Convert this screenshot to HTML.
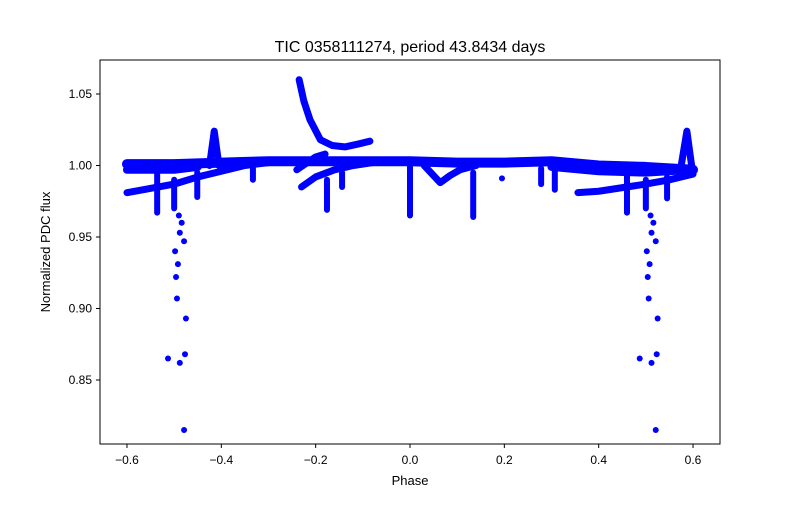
<!DOCTYPE html>
<html><head><meta charset="utf-8"><style>
body{margin:0;background:#fff;font-family:"Liberation Sans",sans-serif}
</style></head><body>
<svg id="chart" width="800" height="500" xmlns="http://www.w3.org/2000/svg" style="font-family:'Liberation Sans',sans-serif">
<rect width="800" height="500" fill="#fff"/>
<text x="410" y="52" text-anchor="middle" font-size="16">TIC 0358111274, period 43.8434 days</text>
<g id="marks"></g>
<rect x="100" y="60" width="620" height="384" fill="none" stroke="#000" stroke-width="1"/>
<g id="axes"></g>
<text x="410" y="485" text-anchor="middle" font-size="13">Phase</text>
<text transform="translate(50,252) rotate(-90)" text-anchor="middle" font-size="13">Normalized PDC flux</text>
</svg>
<script>
const xTicks=[-0.6,-0.4,-0.2,0.0,0.2,0.4,0.6];
const xTickLabels=["−0.6","−0.4","−0.2","0.0","0.2","0.4","0.6"];
const yTicks=[0.85,0.90,0.95,1.00,1.05];
const yTickLabels=["0.85","0.90","0.95","1.00","1.05"];
const bandUpper=[[-0.6,1.001],[-0.5,1.001],[-0.4,1.002],[-0.3,1.003],[-0.2,1.003],[-0.1,1.003],[0,1.003],[0.1,1.002],[0.2,1.002],[0.3,1.003],[0.4,1.0],[0.5,0.999],[0.6,0.997]];
const bandLeftLow=[[-0.6,0.981],[-0.5,0.987],[-0.45,0.992],[-0.4,0.996],[-0.35,1.0],[-0.3,1.002]];
const bandLeftMid=[[-0.6,0.997],[-0.5,0.997],[-0.45,0.999]];
const bandRightLow=[[0.356,0.981],[0.4,0.982],[0.5,0.987],[0.55,0.99],[0.6,0.994]];
const bandRightMid=[[0.3,0.999],[0.4,0.996],[0.5,0.995],[0.6,0.997]];
const spikeLeft=[[-0.425,1.0],[-0.415,1.024],[-0.405,1.0]];
const spikeRight=[[0.575,1.0],[0.587,1.024],[0.597,1.0]];
const flareTrack=[[-0.235,1.060],[-0.225,1.045],[-0.212,1.032],[-0.19,1.018],[-0.165,1.014],[-0.138,1.013],[-0.11,1.015],[-0.085,1.017]];
const crossA=[[-0.23,0.985],[-0.2,0.992],[-0.16,0.997],[-0.12,1.0],[-0.08,1.002]];
const crossB=[[-0.24,0.997],[-0.2,1.006],[-0.18,1.008]];
const crossC=[[0.03,1.0],[0.064,0.988],[0.085,0.993],[0.106,0.997],[0.14,1.0]];
const dipSegments=[[-0.536,0.995,0.967],[-0.451,0.995,0.978],[-0.333,0.998,0.99],[-0.176,0.99,0.969],[-0.144,0.995,0.985],[0,1.0,0.965],[0.134,0.995,0.964],[0.278,0.998,0.987],[0.307,0.998,0.983],[0.46,0.993,0.967],[0.545,0.992,0.977],[-0.5,0.99,0.97],[0.5,0.99,0.97]];
const dipPointsPhase=[-0.513,-0.488,-0.479,-0.477,-0.475,-0.494,-0.496,-0.492,-0.498,-0.488,-0.479,-0.49,-0.484,0.487,0.512,0.521,0.523,0.525,0.506,0.504,0.508,0.502,0.512,0.521,0.51,0.516,0.195];
const dipPointsFlux=[0.865,0.862,0.815,0.868,0.893,0.907,0.922,0.931,0.940,0.953,0.947,0.965,0.96,0.865,0.862,0.815,0.868,0.893,0.907,0.922,0.931,0.940,0.953,0.947,0.965,0.96,0.991];

const X=p=>410+p*471.7;
const Y=f=>165.5-(f-1)*1430;
const NS="http://www.w3.org/2000/svg";
const marks=document.getElementById('marks');
const axes=document.getElementById('axes');
function track(arr,name,w){
  const pl=document.createElementNS(NS,'polyline');
  pl.setAttribute('points',arr.map(d=>X(d[0])+','+Y(d[1])).join(' '));
  pl.setAttribute('fill','none');pl.setAttribute('stroke','#0000ff');
  pl.setAttribute('stroke-width',w||7);pl.setAttribute('stroke-linecap','round');pl.setAttribute('stroke-linejoin','round');
  
  
  marks.appendChild(pl);
}
track(bandUpper,'band-upper',10);track(bandLeftLow,'band-left-low');track(bandLeftMid,'band-left-mid',8);
track(bandRightLow,'band-right-low');track(bandRightMid,'band-right-mid',8);
track(spikeLeft,'spike-left');track(spikeRight,'spike-right');track(flareTrack,'flare-track');
track(crossA,'cross-track-a');track(crossB,'cross-track-b');track(crossC,'cross-track-c');
dipSegments.forEach(d=>{
  const l=document.createElementNS(NS,'line');
  l.setAttribute('x1',X(d[0]));l.setAttribute('x2',X(d[0]));
  l.setAttribute('y1',Y(d[1]));l.setAttribute('y2',Y(d[2]));
  l.setAttribute('stroke','#0000ff');l.setAttribute('stroke-width','6');l.setAttribute('stroke-linecap','round');
  
  
  marks.appendChild(l);
});
dipPointsPhase.forEach((p,i)=>{
  const c=document.createElementNS(NS,'circle');
  c.setAttribute('cx',X(p));c.setAttribute('cy',Y(dipPointsFlux[i]));c.setAttribute('r','3');c.setAttribute('fill','#0000ff');
  
  
  marks.appendChild(c);
});
xTicks.forEach((t,i)=>{
  const x=X(t);
  const l=document.createElementNS(NS,'line');
  l.setAttribute('x1',x);l.setAttribute('x2',x);l.setAttribute('y1',444);l.setAttribute('y2',448);l.setAttribute('stroke','#000');
  
  
  axes.appendChild(l);
  const tx=document.createElementNS(NS,'text');
  tx.setAttribute('x',x);tx.setAttribute('y',464);tx.setAttribute('text-anchor','middle');tx.setAttribute('font-size','12');
  tx.textContent=xTickLabels[i];
  
  
  axes.appendChild(tx);
});
yTicks.forEach((t,i)=>{
  const y=Y(t);
  const l=document.createElementNS(NS,'line');
  l.setAttribute('x1',96);l.setAttribute('x2',100);l.setAttribute('y1',y);l.setAttribute('y2',y);l.setAttribute('stroke','#000');
  
  
  axes.appendChild(l);
  const tx=document.createElementNS(NS,'text');
  tx.setAttribute('x',92);tx.setAttribute('y',y+4);tx.setAttribute('text-anchor','end');tx.setAttribute('font-size','12');
  tx.textContent=yTickLabels[i];
  
  
  axes.appendChild(tx);
});
</script>
</body></html>
